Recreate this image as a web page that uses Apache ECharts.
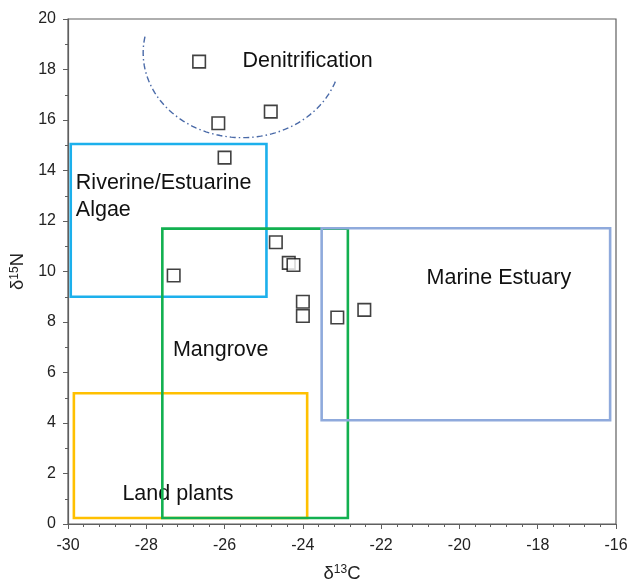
<!DOCTYPE html>
<html>
<head>
<meta charset="utf-8">
<script src="https://cdn.jsdelivr.net/npm/echarts@6/dist/echarts.min.js"></script>
<style>
  html, body { margin: 0; padding: 0; background: #fff; }
  #chart { width: 630px; height: 583px; }
</style>
</head>
<body>
<div id="chart"></div>
<script>
// Isotope samples: δ13C (x) vs δ15N (y)
const sampleC = [-26.65, -24.82, -26.16, -26.0, -24.69, -24.36, -24.24, -27.30, -24.0, -24.0, -23.12, -22.43];
const sampleN = [18.31, 16.33, 15.87, 14.51, 11.16, 10.34, 10.26, 9.84, 8.80, 8.24, 8.18, 8.48];

// Source boxes: [xMin, yMin, xMax, yMax]
const riverineBox = [-29.93, 9.0, -24.93, 15.05];
const landBox = [-29.85, 0.24, -23.89, 5.18];
const mangroveBox = [-27.59, 0.24, -22.85, 11.70];
const marineBox = [-23.52, 4.11, -16.15, 11.71];
const boxColors = ['#1CB0EC', '#FFC000', '#12B050', '#8FAADC'];

// Denitrification arc: centre, radii (data units), start/end angles (deg)
const arcCentre = [-25.55, 18.66];
const arcRadii = [2.53, 3.36];
const arcAngles = [191, 19];

// Region labels: [x, y, text]
const regionLabels = [
  [-25.54, 18.34, 'Denitrification'],
  [-20.84, 9.72, 'Marine Estuary'],
  [-29.80, 12.96, 'Riverine/Estuarine\nAlgae'],
  [-27.32, 6.9, 'Mangrove'],
  [-28.61, 1.17, 'Land plants']
];

const xTicks = { min: -30, max: -16, step: 2 };
const yTicks = { min: 0, max: 20, step: 2 };

const axisColor = '#5f5f5f';
const font = '"Liberation Sans", Arial, sans-serif';

const boxes = [riverineBox, landBox, mangroveBox, marineBox];

const chart = echarts.init(document.getElementById('chart'), null, { renderer: 'canvas' });

function boxSeries(box, color, z) {
  return {
    type: 'custom',
    z: z,
    silent: true,
    data: [box],
    encode: { x: [0, 2], y: [1, 3] },
    renderItem: function (params, api) {
      const p1 = api.coord([api.value(0), api.value(3)]);
      const p2 = api.coord([api.value(2), api.value(1)]);
      return {
        type: 'rect',
        shape: { x: p1[0], y: p1[1], width: p2[0] - p1[0], height: p2[1] - p1[1] },
        style: { fill: 'none', stroke: color, lineWidth: 2.6 }
      };
    }
  };
}

const series = [];

// labels (drawn beneath the boxes)
series.push({
  type: 'custom',
  z: 1,
  silent: true,
  data: regionLabels,
  encode: { x: 0, y: 1 },
  renderItem: function (params, api) {
    const p = api.coord([api.value(0), api.value(1)]);
    return {
      type: 'text',
      x: p[0],
      y: p[1],
      style: {
        text: regionLabels[params.dataIndex][2],
        fill: '#111',
        font: '21.5px ' + font,
        lineHeight: 27,
        align: 'left',
        verticalAlign: 'middle'
      }
    };
  }
});

boxes.forEach(function (b, i) { series.push(boxSeries(b, boxColors[i], 2 + i)); });

// dash-dot denitrification arc
series.push({
  type: 'custom',
  z: 7,
  silent: true,
  data: [[arcCentre[0], arcCentre[1], arcRadii[0], arcRadii[1]]],
  encode: { x: 0, y: 1 },
  renderItem: function (params, api) {
    const c = api.coord([api.value(0), api.value(1)]);
    const s = api.size([api.value(2), api.value(3)]);
    const pts = [];
    const a0 = arcAngles[0], a1 = arcAngles[1];
    const n = 80;
    for (let k = 0; k <= n; k++) {
      const t = (a0 + (a1 - a0) * k / n) * Math.PI / 180;
      pts.push([c[0] + s[0] * Math.cos(t), c[1] + s[1] * Math.sin(t)]);
    }
    return {
      type: 'polyline',
      shape: { points: pts },
      style: { fill: 'none', stroke: '#4a6aa8', lineWidth: 1.4, lineDash: [6, 3, 1.5, 3] }
    };
  }
});

// samples
series.push({
  type: 'scatter',
  z: 10,
  symbol: 'rect',
  symbolSize: 12.5,
  itemStyle: { color: '#fff', borderColor: '#111', borderWidth: 1.6 },
  data: sampleC.map(function (x, i) { return [x, sampleN[i]]; })
});

const nameStyle = {
  color: '#222', fontFamily: font, fontSize: 18.5,
  rich: { sup: { fontSize: 12, padding: [0, 0, 7, 0], fontFamily: font, color: '#222' } }
};

const option = {
  animation: false,
  backgroundColor: '#fff',
  grid: {
    left: 68, right: 14, top: 19, bottom: 59,
    containLabel: false,
    outerBoundsMode: 'none',
    show: true, borderColor: axisColor, borderWidth: 1.2, backgroundColor: 'transparent'
  },
  xAxis: {
    type: 'value',
    min: xTicks.min, max: xTicks.max, interval: xTicks.step,
    name: 'δ{sup|13}C',
    nameLocation: 'middle',
    nameGap: 40,
    nameTextStyle: nameStyle,
    axisLine: { show: true, onZero: false, lineStyle: { color: axisColor, width: 1.2 } },
    axisTick: { show: true, inside: false, length: 5, lineStyle: { color: axisColor } },
    minorTick: { show: true, splitNumber: 5, length: 3, lineStyle: { color: axisColor } },
    splitLine: { show: false },
    axisLabel: { color: '#222', fontFamily: font, fontSize: 16, margin: 14 }
  },
  yAxis: {
    type: 'value',
    min: yTicks.min, max: yTicks.max, interval: yTicks.step,
    name: 'δ{sup|15}N',
    nameLocation: 'middle',
    nameRotate: 90,
    nameGap: 37,
    nameTextStyle: nameStyle,
    axisLine: { show: true, onZero: false, lineStyle: { color: axisColor, width: 1.2 } },
    axisTick: { show: true, inside: false, length: 5, lineStyle: { color: axisColor } },
    minorTick: { show: true, splitNumber: 2, length: 3, lineStyle: { color: axisColor } },
    splitLine: { show: false },
    axisLabel: { color: '#222', fontFamily: font, fontSize: 16, margin: 12 }
  },
  series: series
};

chart.setOption(option);
</script>
</body>
</html>
